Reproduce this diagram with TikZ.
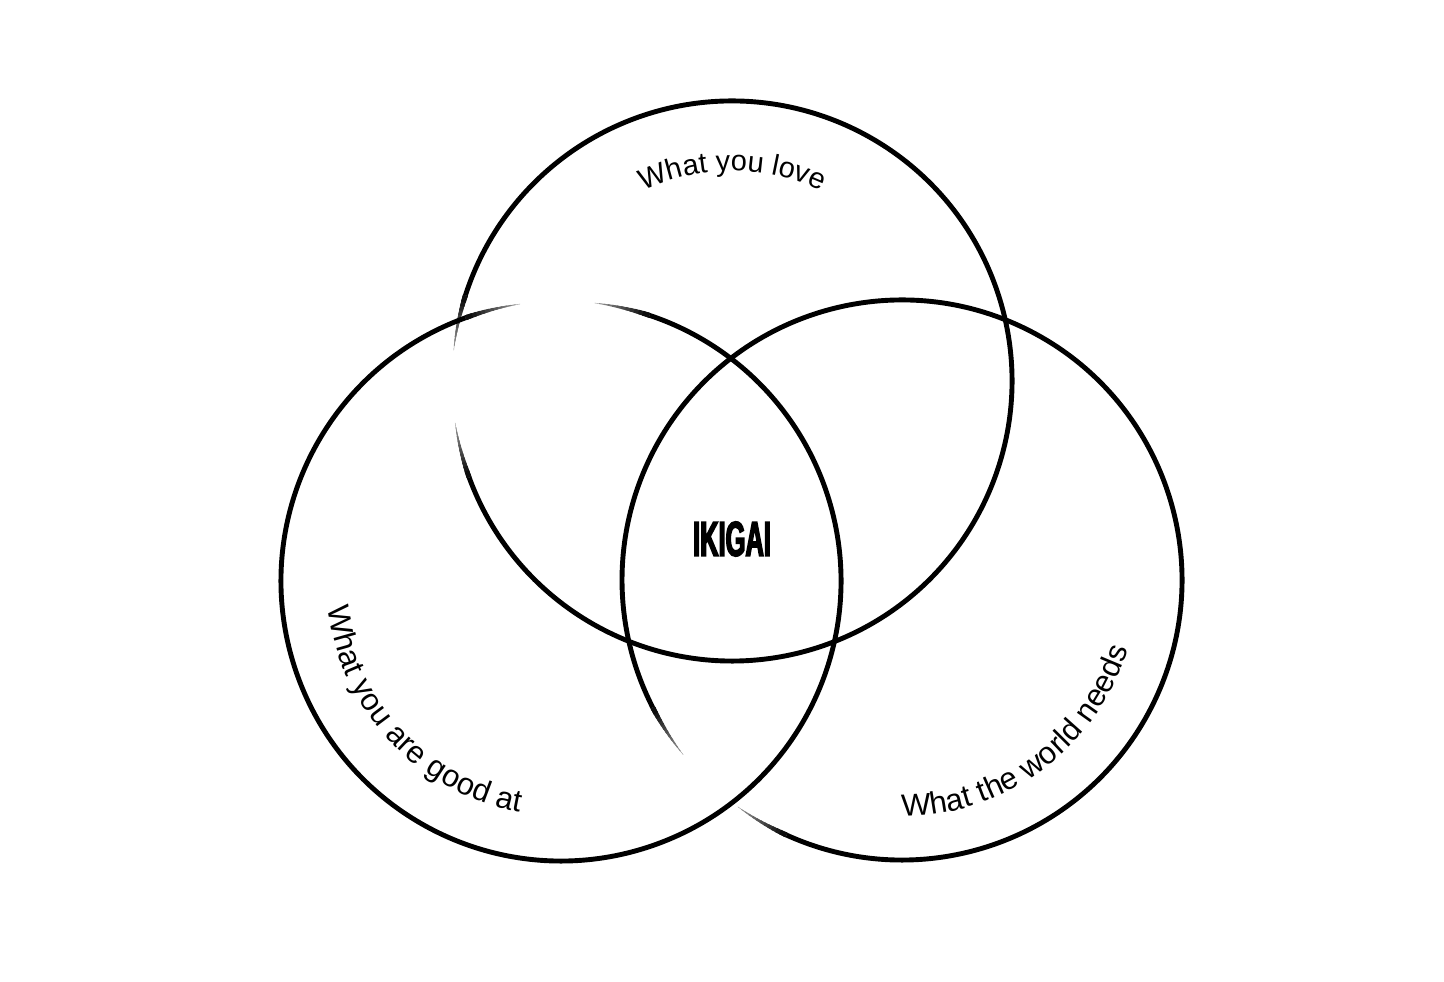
\documentclass[tikz,border=0pt]{standalone}
\usepackage{fontspec}
\setmainfont{Liberation Sans}
\newfontfamily\ikifont[FakeStretch=0.52,FakeBold=3]{Liberation Sans}
\usetikzlibrary{decorations.text}
\newcommand\toplabelfont{\fontsize{29}{31}\selectfont}
\newcommand\labelfont{\fontsize{31}{33}\selectfont}
\newcommand\taperlen{11}
\newcommand\brushring[5]{%
  \pgfmathsetmacro\ringA{#4+\taperlen}%
  \pgfmathsetmacro\ringB{#5-\taperlen}%
  \draw[ring] ([shift={(#1,#2)}]\ringA:#3pt) arc[start angle=\ringA, end angle=\ringB, radius=#3pt];
  \foreach \k in {1,...,12}{%
    \pgfmathsetmacro\ta{#4+\taperlen*(\k-1)/12}%
    \pgfmathsetmacro\tb{#5-\taperlen*(\k-1)/12}%
    \pgfmathsetmacro\lw{0.41*\k}%
    \pgfmathtruncatemacro\shade{35+5*\k}%
    \draw[line cap=butt, line width=\lw pt, draw=black!\shade] ([shift={(#1,#2)}]\ta:#3pt) arc[start angle=\ta, end angle=\ringA+0.5, radius=#3pt];
    \draw[line cap=butt, line width=\lw pt, draw=black!\shade] ([shift={(#1,#2)}]\ringB-0.5:#3pt) arc[start angle=\ringB-0.5, end angle=\tb, radius=#3pt];
  }%
}
\begin{document}
\begin{tikzpicture}[x=1pt,y=1pt,
  ring/.style={draw=black, line width=4.9pt, line cap=butt},
  arclabel/.style={decorate, decoration={text along path, text align={fit to path}}}]
\useasboundingbox (0,0) rectangle (1444,982);
\fill[white] (0,0) rectangle (1444,982);
% top circle: what you love
\brushring{732}{601}{280}{188.6}{533.7}
% left circle: what you are good at
\brushring{561}{401}{280}{98.4}{443.1}
% right circle: what the world needs
\brushring{902}{402}{280}{234.1}{578.6}
% labels
\path[arclabel, decoration={text={|\toplabelfont|What you love}}]
  ([shift={(732,601)}]115:210pt) arc[start angle=115, end angle=66, radius=210pt];
\path[arclabel, decoration={text={|\labelfont|What you are good at}}]
  ([shift={(561,401)}]186.5:234.5pt) arc[start angle=186.5, end angle=260, radius=234.5pt];
\path[arclabel, decoration={text={|\labelfont|What the world needs}}]
  ([shift={(902,402)}]270:236.5pt) arc[start angle=270, end angle=343, radius=236.5pt];
\node[inner sep=0pt, font=\ikifont\bfseries\fontsize{49}{50}\selectfont] (ikigai) at (732,443) {IKIGAI};
\end{tikzpicture}
\end{document}
